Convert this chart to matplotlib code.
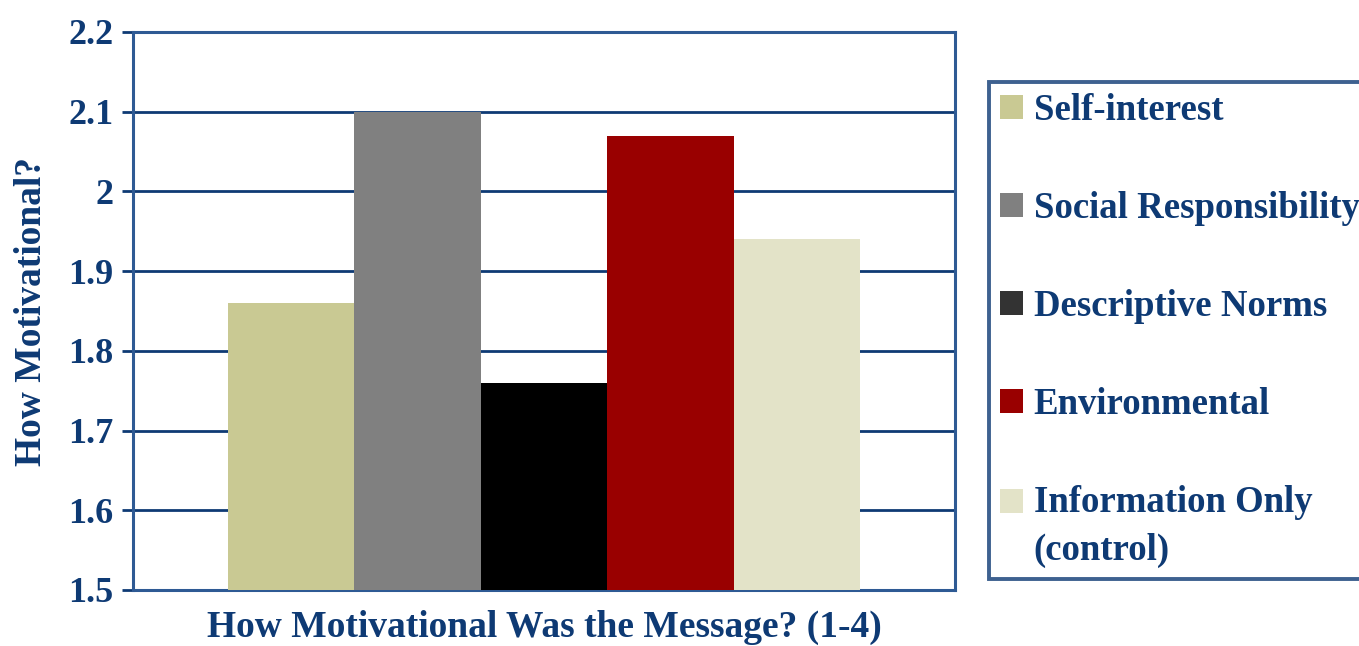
import matplotlib.pyplot as plt
from matplotlib.patches import Patch, Rectangle
from matplotlib.legend_handler import HandlerPatch

# Mean ratings per message type
categorias = ['Self-interest', 'Social Responsibility', 'Descriptive Norms',
              'Environmental', 'Information Only\n(control)']
valores = [1.86, 2.10, 1.76, 2.07, 1.94]
colores_barras = ['#C9C993', '#808080', '#000000', '#990000', '#E3E3C8']
colores_leyenda = ['#C9C993', '#808080', '#333333', '#990000', '#E3E3C8']
ticks_y = [1.5, 1.6, 1.7, 1.8, 1.9, 2.0, 2.1, 2.2]
etiquetas_y = ['1.5', '1.6', '1.7', '1.8', '1.9', '2', '2.1', '2.2']

azul = '#0E3A74'
plt.rcParams['font.family'] = ['Liberation Serif', 'DejaVu Serif']
plt.rcParams['font.weight'] = 'bold'

fig = plt.figure(figsize=(13.59, 6.46), dpi=100)
ax = fig.add_axes([133 / 1359, 56 / 646, 822 / 1359, 558 / 646])

posiciones = list(range(len(valores)))
ax.bar(posiciones, [v - 1.5 for v in valores], bottom=1.5, width=1.0,
       color=colores_barras, zorder=3)

ax.set_xlim(-1.25, 5.25)
ax.set_ylim(1.5, 2.2)
ax.set_yticks(ticks_y)
ax.set_yticklabels(etiquetas_y)
ax.set_xticks([])
ax.yaxis.grid(True, color=azul, linewidth=2, zorder=0)
ax.set_axisbelow(True)

for lado in ['left', 'right', 'top', 'bottom']:
    ax.spines[lado].set_color('#2E5A94')
    ax.spines[lado].set_linewidth(2.2)

ax.tick_params(axis='y', colors=azul, labelsize=26, length=8, width=2,
               direction='out', pad=6)
for t in ax.get_yticklabels():
    t.set_fontweight('bold')

ax.set_ylabel('How Motivational?', fontsize=27, color=azul,
              fontweight='bold', labelpad=14)
ax.set_xlabel('How Motivational Was the Message? (1-4)', fontsize=27,
              color=azul, fontweight='bold', labelpad=14)


# swatch aligned with the first line of a two-line label
def cuadro_arriba(legend, orig_handle, xdescent, ydescent, width, height, fontsize):
    return Rectangle((-xdescent, -ydescent + 0.70 * fontsize), width, height)


handles = [Patch(facecolor=c, edgecolor='none') for c in colores_leyenda]
mapa = {handles[-1]: HandlerPatch(patch_func=cuadro_arriba)}
ley = fig.legend(handles, categorias, loc='upper left',
                 bbox_to_anchor=(989 / 1359, 1 - 82 / 646),
                 frameon=True, fancybox=False, fontsize=26.5,
                 labelspacing=1.71, handlelength=0.63, handleheight=0.63,
                 handletextpad=0.28, borderpad=0.3, borderaxespad=0,
                 handler_map=mapa)
ley.get_frame().set_edgecolor(azul)
ley.get_frame().set_linewidth(2.8)
for t in ley.get_texts():
    t.set_color(azul)
    t.set_fontweight('bold')
    t.set_linespacing(1.48)

fig.savefig('out.png', dpi=100)
